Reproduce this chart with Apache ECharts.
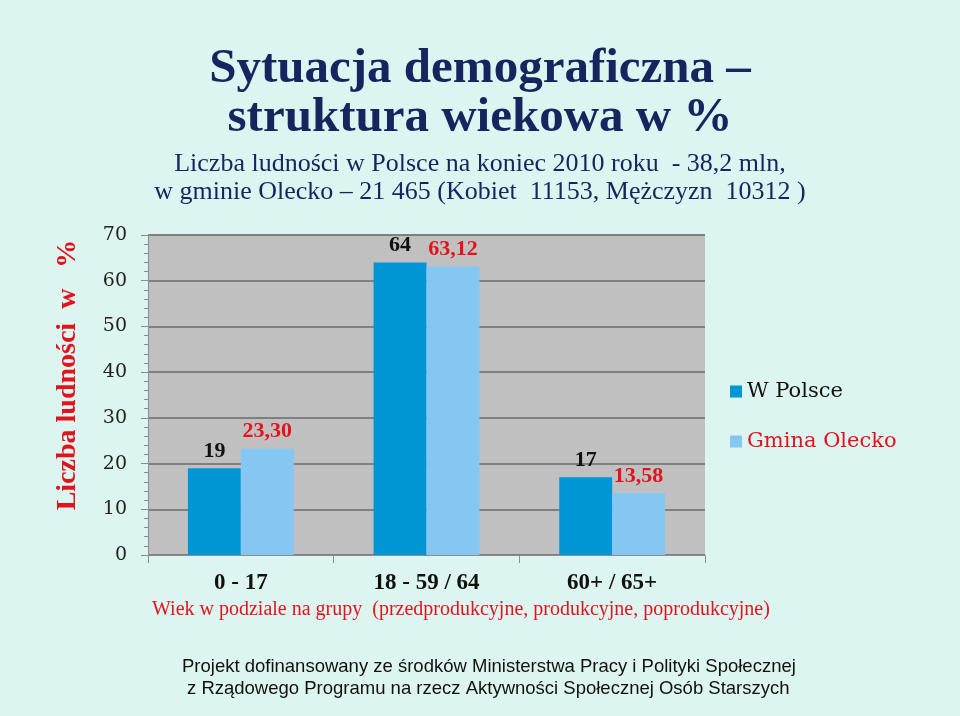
<!DOCTYPE html>
<html>
<head>
<meta charset="utf-8">
<script src="https://cdn.jsdelivr.net/npm/echarts@6/dist/echarts.min.js"></script>
<style>
html,body{margin:0;padding:0;background:#DCF5F1;}
#chart{width:960px;height:716px;}
</style>
</head>
<body>
<div id="chart"></div>
<script>
var categories = ['0 - 17', '18 - 59 / 64', '60+ / 65+'];
var seriesNames = ['W Polsce', 'Gmina Olecko'];
var polskaValues = [19, 64, 17];
var oleckoValues = [23.30, 63.12, 13.58];
var yTicks = [0, 10, 20, 30, 40, 50, 60, 70];

var titleLines = ['Sytuacja demograficzna –', 'struktura wiekowa w %'];
var subtitleLines = ['Liczba ludności w Polsce na koniec 2010 roku  - 38,2 mln,',
                     'w gminie Olecko – 21 465 (Kobiet  11153, Mężczyzn  10312 )'];
var yAxisName = 'Liczba ludności  w   %';
var xAxisNote = 'Wiek w podziale na grupy  (przedprodukcyjne, produkcyjne, poprodukcyjne)';
var footerLines = ['Projekt dofinansowany ze środków Ministerstwa Pracy i Polityki Społecznej',
                   'z Rządowego Programu na rzecz Aktywności Społecznej Osób Starszych'];

var navy = '#15255E';
var red = '#E3131B';

var chart = echarts.init(document.getElementById('chart'), null, {renderer: 'canvas'});
chart.setOption({
  backgroundColor: '#DCF5F1',
  animation: false,
  title: [
    {text: titleLines[0], left: 'center', top: 45, padding: 0,
     textStyle: {fontFamily: 'Liberation Serif', fontWeight: 'bold', fontSize: 49, color: navy}},
    {text: titleLines[1], left: 'center', top: 94, padding: 0,
     textStyle: {fontFamily: 'Liberation Serif', fontWeight: 'bold', fontSize: 49, color: navy}},
    {text: subtitleLines[0], left: 'center', top: 151, padding: 0,
     textStyle: {fontFamily: 'Liberation Serif', fontWeight: 'normal', fontSize: 26, color: navy}},
    {text: subtitleLines[1], left: 'center', top: 179, padding: 0,
     textStyle: {fontFamily: 'Liberation Serif', fontWeight: 'normal', fontSize: 26, color: navy}},
    {text: xAxisNote, left: 152, top: 600, padding: 0,
     textStyle: {fontFamily: 'Liberation Serif', fontWeight: 'normal', fontSize: 20, color: red}},
    {text: footerLines[0], left: 182, top: 657, padding: 0,
     textStyle: {fontFamily: 'Liberation Sans', fontWeight: 'normal', fontSize: 18.5, color: '#111'}},
    {text: footerLines[1], left: 187, top: 679, padding: 0,
     textStyle: {fontFamily: 'Liberation Sans', fontWeight: 'normal', fontSize: 18.5, color: '#111'}}
  ],
  legend: {
    orient: 'vertical',
    left: 730,
    top: 381,
    padding: 0,
    itemGap: 29,
    itemWidth: 12,
    itemHeight: 12,
    icon: 'rect',
    data: [
      {name: seriesNames[0], textStyle: {color: '#111'}},
      {name: seriesNames[1], textStyle: {color: red}}
    ],
    textStyle: {fontFamily: 'DejaVu Serif', fontSize: 21}
  },
  grid: {
    left: 148, right: 255, top: 235, bottom: 161,
    show: true, backgroundColor: '#C0C0C0', borderWidth: 0,
    containLabel: false
  },
  xAxis: {
    type: 'category',
    data: categories,
    axisLine: {show: true, lineStyle: {color: '#8C8C8C', width: 1}},
    axisTick: {show: true, length: 8, lineStyle: {color: '#8C8C8C'}},
    axisLabel: {margin: 17, fontFamily: 'Liberation Serif', fontWeight: 'bold', fontSize: 23, color: '#111'},
    splitLine: {show: false}
  },
  yAxis: {
    type: 'value',
    min: yTicks[0],
    max: yTicks[yTicks.length - 1],
    interval: yTicks[1] - yTicks[0],
    name: yAxisName,
    nameLocation: 'middle',
    nameRotate: 90,
    nameGap: 66,
    nameTextStyle: {fontFamily: 'Liberation Serif', fontWeight: 'bold', fontSize: 28, color: red,
                    padding: [0, 0, 0, 40]},
    axisLine: {show: true, lineStyle: {color: '#8C8C8C', width: 1}},
    axisTick: {show: true, length: 7, lineStyle: {color: '#8C8C8C'}},
    minorTick: {show: true, splitNumber: 5, length: 4, lineStyle: {color: '#8C8C8C'}},
    axisLabel: {margin: 21, fontFamily: 'DejaVu Serif', fontSize: 19, color: '#222'},
    splitLine: {show: true, lineStyle: {color: '#7F7F7F', width: 2}}
  },
  series: [
    {
      name: seriesNames[0],
      type: 'bar',
      data: polskaValues,
      barGap: 0,
      barCategoryGap: '43%',
      itemStyle: {color: '#0096D6'},
      label: {show: true, position: 'top', distance: 6,
        fontFamily: 'Liberation Serif', fontWeight: 'bold', fontSize: 22, color: '#111',
        formatter: function (p) { return String(p.value).replace('.', ','); }}
    },
    {
      name: seriesNames[1],
      type: 'bar',
      data: oleckoValues,
      barGap: 0,
      barCategoryGap: '43%',
      itemStyle: {color: '#85C6F2'},
      label: {show: true, position: 'top', distance: 6,
        fontFamily: 'Liberation Serif', fontWeight: 'bold', fontSize: 22, color: red,
        formatter: function (p) { return p.value.toFixed(2).replace('.', ','); }}
    }
  ]
});
</script>
</body>
</html>
